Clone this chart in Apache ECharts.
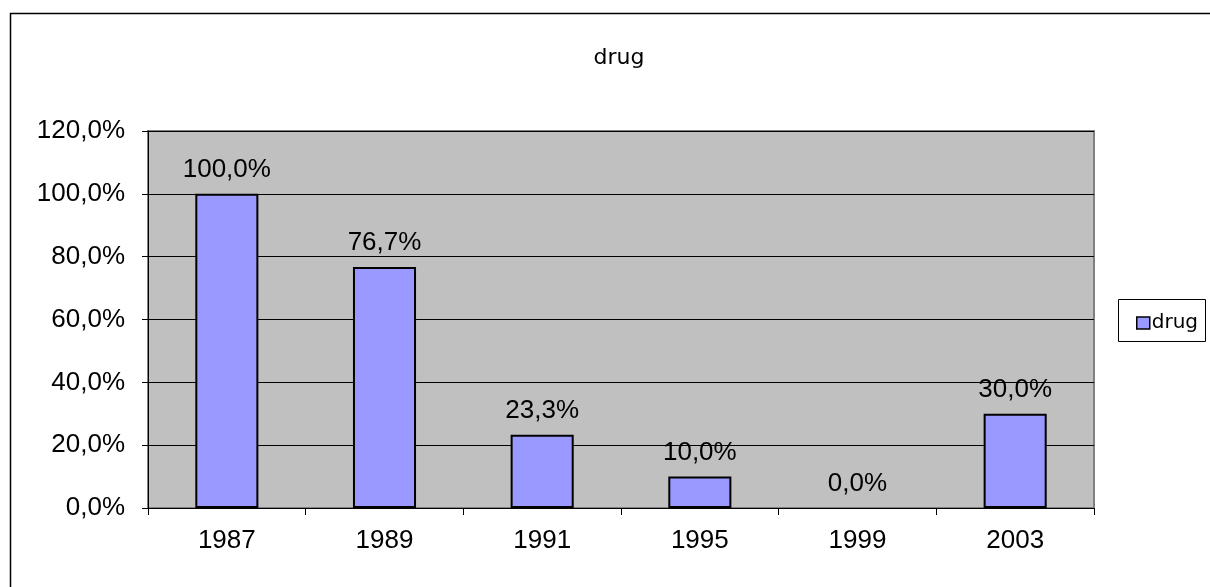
<!DOCTYPE html>
<html><head><meta charset="utf-8">
<script src="https://cdn.jsdelivr.net/npm/echarts@6/dist/echarts.min.js"></script>
<style>html,body{margin:0;padding:0;background:#fff}#c{width:1210px;height:587px}</style>
</head><body><div id="c"></div>
<script>
const categories = ['1987','1989','1991','1995','1999','2003'];
const drugValues = [100.0, 76.7, 23.3, 10.0, 0.0, 30.0];
const seriesName = 'drug';
const yTicks = {min: 0, max: 120, interval: 20};

const fmt = v => v.toFixed(1).replace('.', ',') + '%';
const chart = echarts.init(document.getElementById('c'));
chart.setOption({
  animation: false,
  backgroundColor: '#fff',
  title: {text: 'drug', left: 614, top: 42, textAlign: 'center',
    textStyle: {fontFamily: 'DejaVu Sans', fontSize: 22, fontWeight: 'normal', color: '#000'}},
  graphic: [
    {type: 'rect', shape: {x: 10.5, y: 13.5, width: 1300, height: 700}, style: {fill: 'none', stroke: '#000', lineWidth: 1.5}, z: -10},
    {type: 'rect', shape: {x: 1118.5, y: 299.5, width: 87, height: 42}, style: {fill: '#fff', stroke: '#000', lineWidth: 1}, z: 1}
  ],
  legend: {data: [seriesName], left: 1131, top: 308, icon: 'rect', itemWidth: 13, itemHeight: 12, itemGap: 5,
    itemStyle: {borderColor: '#000', borderWidth: 1.5},
    textStyle: {fontFamily: 'DejaVu Sans', fontSize: 20, color: '#000', padding: [0,0,0,-3]}, z: 5},
  grid: {left: 148, right: 116, top: 131, bottom: 79, show: true, backgroundColor: '#C0C0C0', borderColor: '#808080', borderWidth: 2},
  xAxis: {type: 'category', data: categories,
    axisLine: {lineStyle: {color: '#000', width: 1}},
    axisTick: {show: true, length: 7, lineStyle: {color: '#000'}},
    axisLabel: {fontFamily: 'Liberation Sans', fontSize: 26, color: '#000', margin: 20}},
  yAxis: {type: 'value', min: yTicks.min, max: yTicks.max, interval: yTicks.interval,
    axisLine: {show: true, lineStyle: {color: '#000'}},
    axisTick: {show: true, length: 6, lineStyle: {color: '#000'}},
    splitLine: {lineStyle: {color: '#000', width: 1}},
    axisLabel: {fontFamily: 'Liberation Sans', fontSize: 26, color: '#000', margin: 23, formatter: v => fmt(v)}},
  series: [{name: seriesName, type: 'bar',
    data: drugValues.map(v => v === 0 ? {value: v, itemStyle: {borderWidth: 0}} : v),
    barWidth: '40%',
    itemStyle: {color: '#9999FF', borderColor: '#000', borderWidth: 2},
    label: {show: true, position: 'top', distance: 11, fontFamily: 'Liberation Sans', fontSize: 26, color: '#000', formatter: p => fmt(p.value)}}]
});
</script></body></html>
